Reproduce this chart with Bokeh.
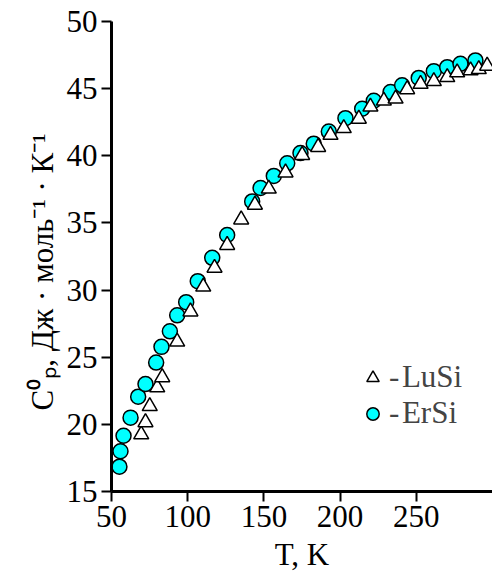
from bokeh.plotting import figure
from bokeh.models import Range1d, FixedTicker, Legend, LegendItem
from bokeh.embed import file_html
from bokeh.resources import INLINE

# ErSi (circles)
ersi_T = [55.2, 55.9, 57.9, 62.5, 67.5, 72.3, 79.3, 82.8, 88.3, 93.1, 99.0, 106.6, 116.1, 125.9,
          142.3, 147.8, 156.5, 165.3, 174.0, 182.7, 192.6, 203.5, 214.5, 222.1, 233.1, 240.7,
          251.6, 261.5, 270.3, 279.0, 288.8]
ersi_Cp = [16.85, 18.0, 19.15, 20.5, 22.06, 23.0, 24.6, 25.77, 26.93, 28.12, 29.1, 30.66, 32.4, 34.1,
           36.6, 37.6, 38.5, 39.44, 40.2, 40.9, 41.8, 42.8, 43.5, 44.1, 44.75, 45.25,
           45.8, 46.3, 46.6, 46.85, 47.1]

# LuSi (triangles)
lusi_T = [69.5, 72.3, 75.1, 80.0, 83.3, 93.1, 101.8, 110.2, 117.6, 125.9, 135.1, 144.1, 153.2, 164.2,
          175.1, 185.6, 193.7, 202.4, 212.3, 219.9, 228.7, 236.4, 244.0, 252.8, 261.5, 270.3,
          276.8, 285.6, 291.0, 296.5]
lusi_Cp = [19.25, 20.15, 21.35, 22.75, 23.5, 26.15, 28.4, 30.25, 31.65, 33.35, 35.25, 36.35, 37.55, 38.75,
           40.05, 40.65, 41.55, 42.05, 42.75, 43.65, 44.1, 44.25, 44.95, 45.35, 45.55, 45.85,
           46.2, 46.35, 46.45, 46.7]

x_ticks = [50, 100, 150, 200, 250]
y_ticks = [15, 20, 25, 30, 35, 40, 45, 50]

FONT = "Liberation Serif"
PAD = "\u2002\u2002\u200b"

p = figure(width=492, height=574, output_backend="svg", toolbar_location=None,
           x_range=Range1d(50, 300), y_range=Range1d(15, 50),
           min_border_left=111, min_border_right=0, min_border_top=21, min_border_bottom=81)
p.outline_line_color = None
p.grid.visible = False

for ax in (p.xaxis[0], p.yaxis[0]):
    ax.axis_line_width = 3
    ax.axis_line_color = "black"
    ax.major_tick_in = 0
    ax.major_tick_out = 10
    ax.major_tick_line_width = 2
    ax.minor_tick_line_color = None
    ax.major_label_text_font = FONT
    ax.major_label_text_font_size = "31px"
    ax.major_label_text_color = "black"
    ax.axis_label_text_font = FONT
    ax.axis_label_text_font_style = "normal"
    ax.axis_label_text_color = "black"

p.xaxis.ticker = FixedTicker(ticks=x_ticks)
p.yaxis.ticker = FixedTicker(ticks=y_ticks)
p.xaxis.major_label_standoff = 4
p.yaxis.major_label_standoff = 4
p.xaxis.axis_label = "T, K"
p.xaxis.axis_label_text_font_size = "31px"
p.xaxis.axis_label_standoff = 7
p.yaxis.axis_label = "C⁰ₚ, Дж · моль⁻¹ · К⁻¹" + PAD
p.yaxis.axis_label_text_font_size = "31px"
p.yaxis.axis_label_standoff = 4

r_er = p.scatter(ersi_T, ersi_Cp, marker="circle", size=15, fill_color="#00FFFF",
                 line_color="black", line_width=1.5)
r_lu = p.scatter(lusi_T, lusi_Cp, marker="triangle", size=15, fill_color="white",
                 line_color="black", line_width=1.5)

legend = Legend(items=[LegendItem(label="-\u200aLuSi", renderers=[r_lu]),
                       LegendItem(label="-\u200aErSi", renderers=[r_er])],
                location=(246, 60), padding=0, spacing=0, margin=0,
                glyph_width=31, glyph_height=31, label_standoff=1,
                label_height=20, label_text_line_height=0.9,
                label_text_font=FONT, label_text_font_size="31px",
                border_line_color=None, background_fill_alpha=0)
p.add_layout(legend, "center")

open("out.html", "w").write(file_html(p, INLINE))
